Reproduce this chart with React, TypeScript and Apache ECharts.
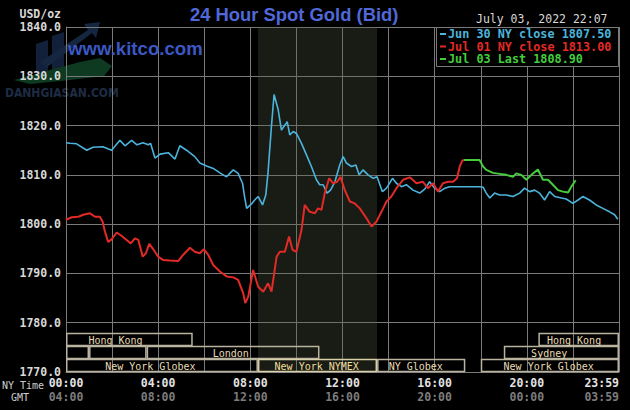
import React, { useEffect, useRef } from 'react';
import * as echarts from 'echarts';

// ---- data: [NY hour, price] ----
const jun30Close: [number, number][] = [
  [0.0, 1816.5], [0.17, 1816.4], [0.46, 1816.3], [0.9, 1815.0], [1.17, 1815.6], [1.6, 1815.7],
  [1.98, 1815.0], [2.34, 1817.0], [2.56, 1815.9], [2.85, 1817.0], [3.08, 1816.1], [3.34, 1816.5],
  [3.57, 1816.1], [3.67, 1816.4], [3.86, 1813.4], [4.08, 1814.2], [4.44, 1814.5], [4.73, 1813.2],
  [4.94, 1815.9], [5.23, 1815.0], [5.59, 1813.7], [5.81, 1812.4], [6.1, 1811.8], [6.39, 1811.3],
  [6.68, 1810.4], [6.97, 1809.6], [7.11, 1810.3], [7.26, 1811.0], [7.47, 1810.3], [7.66, 1808.3],
  [7.76, 1805.3], [7.84, 1803.2], [8.05, 1804.1], [8.19, 1804.9], [8.34, 1805.6], [8.53, 1803.9],
  [8.67, 1805.9], [8.77, 1810.6], [8.92, 1820.1], [9.03, 1826.3], [9.21, 1823.2], [9.35, 1819.1],
  [9.5, 1820.1], [9.6, 1820.8], [9.71, 1818.1], [9.86, 1818.8], [10.0, 1818.4], [10.22, 1816.4],
  [10.44, 1814.0], [10.65, 1811.7], [10.87, 1809.0], [11.01, 1808.0], [11.16, 1808.0], [11.33, 1806.3],
  [11.48, 1806.9], [11.67, 1808.6], [11.88, 1812.0], [12.03, 1813.7], [12.17, 1812.4], [12.39, 1811.7],
  [12.58, 1812.0], [12.72, 1810.0], [12.89, 1811.0], [13.11, 1810.0], [13.33, 1809.3], [13.5, 1809.6],
  [13.73, 1806.6], [13.91, 1807.3], [14.17, 1809.3], [14.34, 1808.3], [14.56, 1807.6], [14.77, 1808.0],
  [15.06, 1806.9], [15.35, 1806.3], [15.57, 1807.1], [15.78, 1808.6], [16.0, 1807.3], [16.22, 1806.6],
  [16.44, 1807.3], [16.65, 1807.6], [16.94, 1807.6], [17.23, 1807.6], [17.95, 1807.6], [18.1, 1807.5],
  [18.24, 1806.3], [18.39, 1805.3], [18.6, 1806.3], [18.82, 1805.9], [19.11, 1805.9], [19.4, 1805.6],
  [19.69, 1806.3], [19.9, 1807.3], [20.12, 1806.6], [20.34, 1806.9], [20.55, 1806.3], [20.77, 1804.9],
  [20.99, 1806.6], [21.21, 1805.6], [21.5, 1805.3], [21.71, 1805.1], [22.0, 1804.2], [22.22, 1804.9],
  [22.43, 1805.6], [22.72, 1804.9], [23.01, 1803.9], [23.3, 1803.2], [23.59, 1802.5], [23.81, 1801.9],
  [23.95, 1801.0]
];

const jul01Close: [number, number][] = [
  [0.0, 1800.9], [0.25, 1801.4], [0.53, 1801.5], [0.75, 1801.9], [1.04, 1802.2], [1.26, 1801.5],
  [1.47, 1801.5], [1.59, 1800.5], [1.69, 1798.5], [1.83, 1796.4], [1.98, 1796.9], [2.2, 1798.3],
  [2.42, 1797.6], [2.63, 1796.8], [2.81, 1796.1], [2.99, 1797.1], [3.14, 1796.8], [3.33, 1793.4],
  [3.47, 1794.1], [3.61, 1796.0], [3.79, 1794.9], [4.0, 1793.4], [4.22, 1792.7], [4.51, 1792.6],
  [4.87, 1792.5], [5.09, 1793.8], [5.38, 1795.2], [5.59, 1794.4], [5.81, 1794.1], [5.98, 1794.9],
  [6.17, 1793.8], [6.39, 1791.7], [6.68, 1790.4], [6.97, 1789.4], [7.26, 1789.2], [7.47, 1788.7],
  [7.69, 1786.0], [7.78, 1784.0], [7.91, 1785.3], [8.12, 1790.7], [8.34, 1787.3], [8.56, 1786.3],
  [8.77, 1788.0], [8.92, 1786.3], [9.14, 1793.4], [9.28, 1794.4], [9.5, 1794.4], [9.68, 1797.5],
  [9.83, 1794.8], [10.0, 1794.4], [10.22, 1798.8], [10.36, 1803.9], [10.58, 1802.5], [10.8, 1802.2],
  [10.94, 1803.2], [11.09, 1802.9], [11.23, 1806.3], [11.42, 1809.3], [11.59, 1808.3], [11.77, 1808.6],
  [11.91, 1809.6], [12.1, 1806.9], [12.32, 1804.6], [12.53, 1804.2], [12.75, 1803.2], [13.04, 1801.2],
  [13.26, 1799.5], [13.47, 1800.5], [13.69, 1802.5], [13.91, 1804.6], [14.12, 1805.6], [14.34, 1807.3],
  [14.63, 1809.0], [14.92, 1809.5], [15.21, 1808.3], [15.49, 1808.6], [15.71, 1807.3], [15.93, 1808.3],
  [16.14, 1806.6], [16.36, 1808.3], [16.58, 1808.6], [16.8, 1808.6], [16.97, 1809.3], [17.09, 1811.7],
  [17.2, 1812.9], [17.27, 1813.0]
];

const jul03Last: [number, number][] = [
  [17.27, 1813.0], [17.95, 1813.0], [18.1, 1811.7], [18.24, 1811.0], [18.53, 1810.4], [18.82, 1810.2],
  [19.11, 1810.0], [19.4, 1809.6], [19.54, 1810.3], [19.76, 1810.0], [19.98, 1809.0], [20.2, 1810.0],
  [20.48, 1811.1], [20.7, 1809.0], [20.92, 1809.0], [21.13, 1808.0], [21.35, 1806.9], [21.57, 1806.6],
  [21.79, 1806.4], [21.93, 1807.6], [22.12, 1808.9]
];

const seriesNames = ['Jun 30 NY close 1807.50', 'Jul 01 NY close 1813.00', 'Jul 03 Last 1808.90'];

// NYMEX trading window (NY hours)
const nymexWindow = [8.33, 13.5];

// Market sessions
const sessionStart = [0, 20.5, 0, 1, 3.5, 19, 0, 8.33, 13.5, 18];
const sessionEnd = [5.5, 24, 1, 3.5, 11, 24, 8.33, 13.5, 17.33, 24];
const sessionRow = [0, 0, 1, 1, 1, 1, 2, 2, 2, 2];
const sessionLabel = ['Hong Kong', 'Hong Kong', '', '', 'London', 'Sydney', 'New York Globex', 'New York NYMEX', 'NY Globex', 'New York Globex'];
const sessionLabelAt = [2.15, 22.05, 0.5, 2.25, 7.15, 20.97, 3.66, 10.88, 15.18, 20.95];

const yMin = 1770;
const yMax = 1840;
const yStep = 10;
const xMin = 0;
const xMax = 24;
const xStep = 2;
const gmtOffset = 4;

const CYAN = '#4cb4dc';
const RED = '#e22a26';
const GREEN = '#44cc3c';
const GRID = '#7a7a7a';
const MONO = '"DejaVu Sans Mono", monospace';

const pad = (n: number) => (n < 10 ? '0' + n : '' + n);
const fmtHour = (h: number, off: number) => {
  if (h >= 24) return pad((23 + off) % 24) + ':59';
  return pad((h + off) % 24) + ':00';
};

export default function App() {
  const ref = useRef<HTMLDivElement>(null);
  useEffect(() => {
    const chart = echarts.init(ref.current!, null, { renderer: 'svg' });
    const option: any = {
      animation: false,
      backgroundColor: '#000',
      title: [
        {
          text: '24 Hour Spot Gold (Bid)', left: 190, top: 5, padding: 0,
          textStyle: { color: '#5068d8', fontFamily: 'Liberation Sans', fontSize: 18.4, fontWeight: 'bold' }
        },
        {
          text: 'July 03, 2022 22:07', left: 476, top: 13, padding: 0,
          textStyle: { color: '#d8d8d8', fontFamily: MONO, fontSize: 11.5, fontWeight: 'normal' }
        },
        {
          text: 'www.kitco.com', left: 68, top: 39, padding: 0,
          textStyle: { color: '#3b58c4', fontFamily: 'Liberation Sans', fontSize: 18.6, fontWeight: 'bold' }
        }
      ],
      graphic: [
        { type: 'polygon', z: -1, shape: { points: [[36, 44], [48, 40], [48, 76], [36, 76]] }, style: { fill: '#13203a' } },
        { type: 'polygon', z: -1, shape: { points: [[52, 36], [64, 32], [64, 76], [52, 76]] }, style: { fill: '#13203a' } },
        { type: 'polygon', z: -1, shape: { points: [[40, 62], [88, 30], [84, 24], [100, 22], [96, 38], [92, 33], [46, 68]] }, style: { fill: '#152640' } },
        { type: 'polygon', z: -1, shape: { points: [[14, 80], [50, 70], [80, 62], [100, 58], [112, 66], [104, 76], [70, 80], [30, 84]] }, style: { fill: '#0f3a22' } },
        { type: 'text', z: -1, left: 5, top: 87, style: { text: 'DANHGIASAN.COM', fill: '#1e2c44', font: 'bold 12px "Liberation Sans Narrow", "DejaVu Sans Condensed", sans-serif' } },
        {
          type: 'rect', z: 3, shape: { x: 436.5, y: 27.5, width: 182, height: 39 },
          style: { fill: '#000', stroke: GRID, lineWidth: 1 }
        },
        { type: 'text', left: 2, top: 380, style: { text: 'NY Time', fill: '#cfcfcf', font: '10px ' + MONO } },
        { type: 'text', left: 11, top: 392, style: { text: 'GMT', fill: '#cfcfcf', font: '10px ' + MONO } }
      ],
      legend: {
        orient: 'vertical', left: 440, top: 28, padding: 0, itemGap: 0.5,
        itemWidth: 6, itemHeight: 2, icon: 'rect', selectedMode: false, z: 5,
        textStyle: { fontFamily: MONO, fontSize: 11.8, fontWeight: 'bold', lineHeight: 12, padding: [0, 0, 0, -3] },
        data: [
          { name: seriesNames[0], textStyle: { color: CYAN } },
          { name: seriesNames[1], textStyle: { color: RED } },
          { name: seriesNames[2], textStyle: { color: GREEN } }
        ]
      },
      grid: { left: 66, top: 27, width: 553, height: 345, containLabel: false },
      xAxis: {
        type: 'value', min: xMin, max: xMax, interval: xStep,
        axisLine: { show: true, lineStyle: { color: GRID } },
        axisTick: { show: false },
        splitLine: { show: true, lineStyle: { color: GRID, width: 1 } },
        axisLabel: {
          margin: 4, alignMaxLabel: 'right', showMaxLabel: true, showMinLabel: true,
          formatter: (v: number) => (v % 4 === 0 ? '{a|' + fmtHour(v, 0) + '}\n{b|' + fmtHour(v, gmtOffset) + '}' : ''),
          rich: {
            a: { color: '#e2e2e2', fontFamily: MONO, fontSize: 11.5, fontWeight: 'bold', lineHeight: 14 },
            b: { color: '#7c7c7c', fontFamily: MONO, fontSize: 11.5, fontWeight: 'bold', lineHeight: 14 }
          }
        }
      },
      yAxis: {
        type: 'value', min: yMin, max: yMax, interval: yStep,
        name: 'USD/oz', nameLocation: 'end', nameGap: 7,
        nameTextStyle: { color: '#d8d8d8', fontFamily: MONO, fontSize: 11.5, fontWeight: 'bold', align: 'right', verticalAlign: 'bottom', padding: [0, 5, 0, 0] },
        axisLine: { show: true, lineStyle: { color: GRID } },
        axisTick: { show: false },
        splitLine: { show: true, lineStyle: { color: GRID, width: 1 } },
        axisLabel: {
          margin: 5, color: '#d8d8d8', fontFamily: MONO, fontSize: 11.5, fontWeight: 'bold',
          formatter: (v: number) => v.toFixed(1)
        }
      },
      series: [
        {
          name: seriesNames[0], type: 'line', data: jun30Close, showSymbol: false, symbol: 'none',
          lineStyle: { color: CYAN, width: 1.6 }, itemStyle: { color: CYAN }, z: 4,
          markArea: {
            silent: true,
            itemStyle: { color: 'rgba(80,92,70,0.3)' },
            data: [[{ xAxis: nymexWindow[0] }, { xAxis: nymexWindow[1] }]]
          }
        },
        {
          name: seriesNames[1], type: 'line', data: jul01Close, showSymbol: false, symbol: 'none',
          lineStyle: { color: RED, width: 2 }, itemStyle: { color: RED }, z: 4
        },
        {
          name: seriesNames[2], type: 'line', data: jul03Last, showSymbol: false, symbol: 'none',
          lineStyle: { color: GREEN, width: 2 }, itemStyle: { color: GREEN }, z: 4
        },
        {
          type: 'custom', silent: true, z: 3,
          encode: { x: [0, 1], y: 4 },
          data: sessionStart.map((s, i) => [s, sessionEnd[i], sessionRow[i], sessionLabelAt[i], yMin]),
          renderItem: (params: any, api: any) => {
            const i = params.dataIndex;
            const p0 = api.coord([api.value(0), yMin]);
            const p1 = api.coord([api.value(1), yMin]);
            const pl = api.coord([api.value(3), yMin]);
            const row = api.value(2);
            const top = p0[1] - (3 - row) * 13 + 0.5;
            const isNymex = sessionLabel[i] === 'New York NYMEX';
            return {
              type: 'group',
              children: [
                {
                  type: 'rect',
                  shape: { x: p0[0] + 0.75, y: top, width: p1[0] - p0[0] - 1.5, height: 12 },
                  style: { fill: 'none', stroke: isNymex ? '#d8cfa8' : '#bab3a0', lineWidth: 1.5 }
                },
                {
                  type: 'text',
                  x: pl[0], y: top + 6.5,
                  style: {
                    text: sessionLabel[i], fill: isNymex ? '#f0dc9a' : '#e8dcb6',
                    font: '10px ' + MONO, align: 'center', verticalAlign: 'middle',
                    textAlign: 'center', textVerticalAlign: 'middle'
                  }
                }
              ]
            };
          }
        }
      ]
    };
    chart.setOption(option);
    return () => chart.dispose();
  }, []);
  return (
    <div
      ref={ref}
      style={{ position: 'fixed', left: 0, top: 0, width: 630, height: 410, background: '#000' }}
    />
  );
}
